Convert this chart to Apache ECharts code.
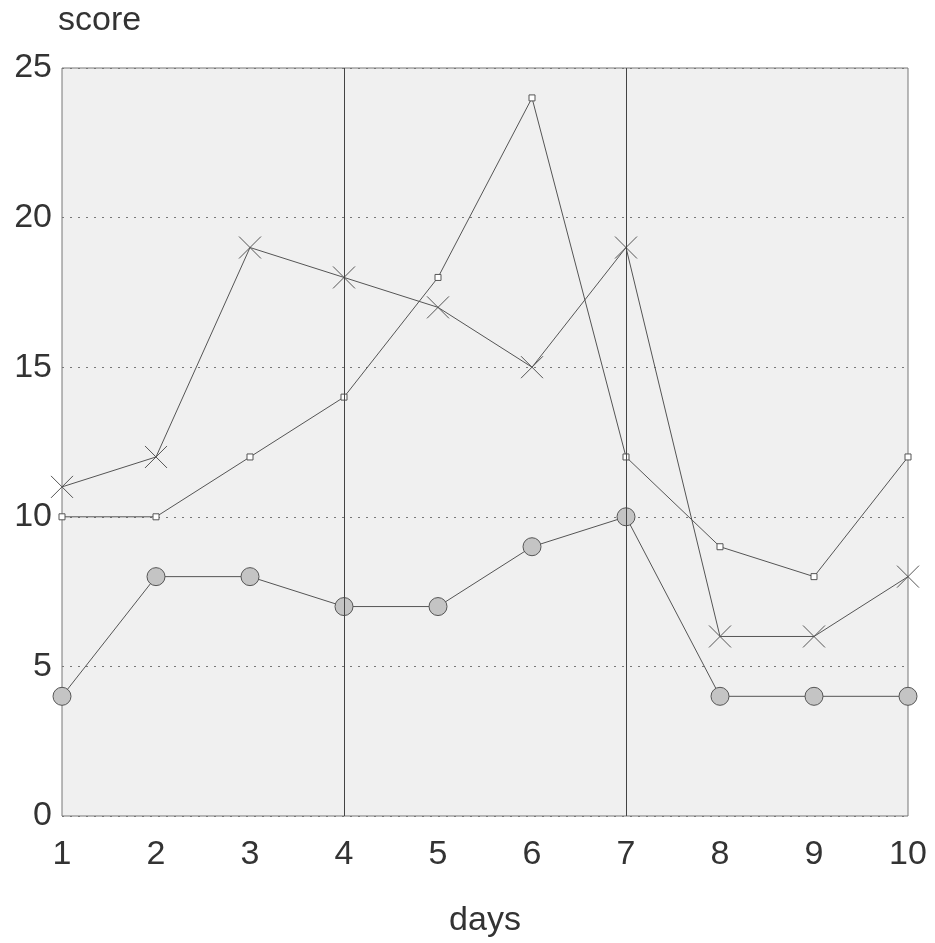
<!DOCTYPE html>
<html>
<head>
<meta charset="utf-8">
<script src="https://cdn.jsdelivr.net/npm/echarts@6/dist/echarts.min.js"></script>
<style>
  html, body { margin: 0; padding: 0; background: #fff; }
  #chart { width: 935px; height: 943px; }
</style>
</head>
<body>
<div id="chart"></div>
<script>
  // days on the x axis
  var days = [1, 2, 3, 4, 5, 6, 7, 8, 9, 10];
  // three score series
  var squareScores = [10, 10, 12, 14, 18, 24, 12, 9, 8, 12];
  var crossScores = [11, 12, 19, 18, 17, 15, 19, 6, 6, 8];
  var circleScores = [4, 8, 8, 7, 7, 9, 10, 4, 4, 4];
  // vertical reference lines
  var markDays = [4, 7];

  function pairs(vals) {
    return days.map(function (d, i) { return [d, vals[i]]; });
  }

  var lineColor = "#555";
  var myChart = echarts.init(document.getElementById("chart"));
  var option = {
    animation: false,
    textStyle: { fontFamily: "Liberation Sans, Arial, sans-serif" },
    grid: {
      left: 62, right: 27, top: 68, bottom: 125,
      show: true, backgroundColor: "#f0f0f0", borderColor: "#777", borderWidth: 1
    },
    xAxis: {
      type: "value", min: 1, max: 10, interval: 1,
      name: "days", nameLocation: "middle", nameGap: 88,
      nameTextStyle: { fontSize: 34, color: "#333" },
      axisLine: { show: false }, axisTick: { show: false },
      splitLine: { show: false },
      axisLabel: { fontSize: 34, color: "#333", margin: 22 }
    },
    yAxis: {
      type: "value", min: 0, max: 25, interval: 5,
      name: "score", nameLocation: "end", nameGap: 30,
      nameTextStyle: { fontSize: 34, color: "#333", align: "left", padding: [0, 0, 0, -4] },
      axisLine: { show: false }, axisTick: { show: false },
      axisLabel: { fontSize: 34, color: "#333", margin: 10 },
      splitLine: { show: true, lineStyle: { type: [2, 6], color: "#777", width: 1 } }
    },
    series: [
      {
        name: "square", type: "line", data: pairs(squareScores),
        symbol: "rect", symbolSize: 6,
        lineStyle: { color: lineColor, width: 1 },
        itemStyle: { color: "#fff", borderColor: lineColor, borderWidth: 1 },
        markLine: {
          silent: true, symbol: "none", label: { show: false },
          lineStyle: { color: "#444", width: 1, type: "solid" },
          data: markDays.map(function (d) { return { xAxis: d }; })
        }
      },
      {
        name: "cross", type: "line", data: pairs(crossScores),
        symbol: "path://M0,0L10,10M10,0L0,10", symbolSize: 22,
        lineStyle: { color: lineColor, width: 1 },
        itemStyle: { color: "none", borderColor: lineColor, borderWidth: 1 }
      },
      {
        name: "circle", type: "line", data: pairs(circleScores),
        symbol: "circle", symbolSize: 18,
        lineStyle: { color: lineColor, width: 1 },
        itemStyle: { color: "#c4c4c4", borderColor: lineColor, borderWidth: 1 }
      }
    ]
  };
  myChart.setOption(option);
</script>
</body>
</html>
